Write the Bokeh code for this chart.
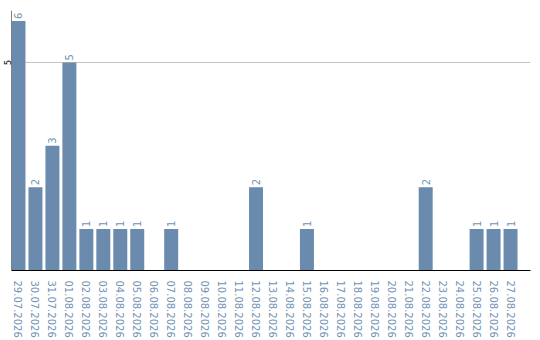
import math

from bokeh.core.properties import value
from bokeh.embed import file_html
from bokeh.models import ColumnDataSource, FixedTicker, Range1d, Span
from bokeh.plotting import figure
from bokeh.resources import INLINE

# Daily counts, 29.07.2026 - 27.08.2026
dates = [
    "29.07.2026", "30.07.2026", "31.07.2026", "01.08.2026", "02.08.2026",
    "03.08.2026", "04.08.2026", "05.08.2026", "06.08.2026", "07.08.2026",
    "08.08.2026", "09.08.2026", "10.08.2026", "11.08.2026", "12.08.2026",
    "13.08.2026", "14.08.2026", "15.08.2026", "16.08.2026", "17.08.2026",
    "18.08.2026", "19.08.2026", "20.08.2026", "21.08.2026", "22.08.2026",
    "23.08.2026", "24.08.2026", "25.08.2026", "26.08.2026", "27.08.2026",
]
counts = [6, 2, 3, 5, 1, 1, 1, 1, 0, 1,
          0, 0, 0, 0, 2, 0, 0, 1, 0, 0,
          0, 0, 0, 0, 2, 0, 0, 1, 1, 1]
y_ticks = [5]

BAR = "#6a8bad"
LABEL = "#7293b5"
FONT = "DejaVu Sans"

xs = list(range(len(dates)))
bars = ColumnDataSource(dict(x=xs, count=counts))
shown = [i for i, c in enumerate(counts) if c > 0]
labels = ColumnDataSource(dict(
    x=[xs[i] for i in shown],
    count=[counts[i] for i in shown],
    text=[str(counts[i]) for i in shown],
))

slot = 17.0           # pixels per day
bar_px = 14.0
frame_w = 520.0
x0 = -bar_px / slot / 2
x1 = x0 + frame_w / slot

p = figure(
    width=540, height=340,
    x_range=Range1d(x0, x1), y_range=Range1d(0, 6.25),
    output_backend="svg", toolbar_location=None,
    min_border_left=10, min_border_right=10,
    min_border_top=10, min_border_bottom=70,
)
p.outline_line_color = None
p.background_fill_color = "white"
p.border_fill_color = "white"

# vertical axis line sits behind the bars
p.add_layout(Span(location=x0, dimension="height", line_color="black",
                  line_width=1, level="underlay"))

p.vbar(x="x", top="count", width=bar_px / slot, source=bars,
       fill_color=BAR, line_color=None)

p.text(x="x", y="count", text="text", source=labels,
       angle=math.pi / 2, text_align="left", text_baseline="middle",
       y_offset=-2, text_font=value(FONT), text_font_size="10px",
       text_color=LABEL)

xa = p.xaxis[0]
xa.ticker = FixedTicker(ticks=xs)
xa.major_label_overrides = {i: d for i, d in zip(xs, dates)}
xa.major_label_orientation = "vertical"
xa.major_label_text_font = FONT
xa.major_label_text_font_size = "10px"
xa.major_label_text_color = LABEL
xa.major_label_standoff = 10
xa.major_tick_out = 0
xa.major_tick_in = 0
xa.minor_tick_out = 0
xa.minor_tick_in = 0
xa.axis_line_color = "black"
xa.axis_line_width = 1

ya = p.yaxis[0]
ya.ticker = FixedTicker(ticks=y_ticks)
ya.major_label_orientation = "vertical"
ya.major_label_text_font = FONT
ya.major_label_text_font_size = "8px"
ya.major_label_text_color = "black"
ya.major_label_standoff = 1
ya.major_tick_out = 0
ya.major_tick_in = 0
ya.minor_tick_out = 0
ya.minor_tick_in = 0
ya.axis_line_color = None

p.xgrid.grid_line_color = None
p.ygrid.ticker = FixedTicker(ticks=y_ticks)
p.ygrid.grid_line_color = "#c4c4c4"
p.ygrid.grid_line_width = 1

open("out.html", "w").write(file_html(p, INLINE))
